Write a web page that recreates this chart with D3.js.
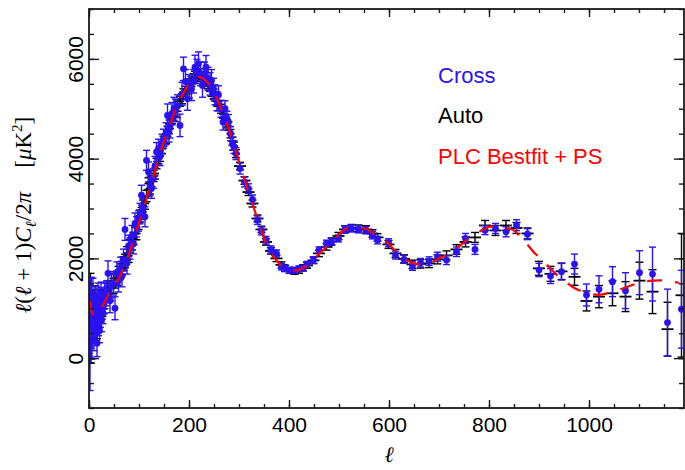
<!DOCTYPE html>
<html><head><meta charset="utf-8">
<script src="https://cdn.jsdelivr.net/npm/d3@7"></script>
<style>body{margin:0;background:#fff}svg{display:block}</style>
</head><body>
<svg id="chart" width="685" height="470"></svg>
<script>
// ---------- data ----------
const theoryEll = [2,5,10,15,20,30,40,50,60,70,80,90,100,110,120,130,140,150,160,170,180,190,200,210,220,230,240,250,260,270,280,290,300,310,320,330,340,350,360,370,380,390,400,410,420,430,440,450,460,470,480,490,500,510,520,530,540,550,560,570,580,590,600,610,620,630,640,650,660,670,680,690,700,710,720,730,740,750,760,770,780,790,800,810,820,830,840,850,860,870,880,890,900,910,920,930,940,950,960,970,980,990,1000,1020,1040,1060,1080,1100,1120,1140,1160,1180];
const theoryDl = [1150,950,850,880,930,1100,1300,1490,1600,1840,2080,2400,2720,3030,3380,3680,4040,4340,4610,4910,5150,5330,5500,5610,5640,5590,5490,5350,5110,4860,4580,4280,3940,3620,3300,3000,2700,2400,2150,2020,1900,1800,1760,1760,1770,1820,1890,1980,2090,2180,2280,2370,2480,2570,2610,2620,2620,2600,2570,2490,2410,2350,2290,2170,2080,2000,1940,1900,1880,1880,1890,1940,2000,2040,2100,2160,2240,2320,2400,2470,2530,2590,2630,2640,2640,2620,2600,2560,2460,2350,2240,2120,2030,1930,1830,1720,1630,1550,1480,1410,1360,1320,1290,1270,1310,1370,1440,1510,1550,1560,1540,1510];

const binCenters = [2,3,4,5,6,7,8,9,10,11,12,13,14,15,16,17,18,19,20,21,22,23,24,25,26,27,28,29,
  31,35,38,42,45,49,52,56,59,63,66,69,72,76,79,82,86,89,92,95,99,102,105,108,112,115,119,122,125,129,132,135,139,142,146,149,
  154,157,160,162,166,170,173,177,182,186,189,193,197,201,205,209,212,216,219,223,227,231,234,238,242,245,249,252,256,259,264,268,272,276,279,283,287,290,294,
  302,311,319,327,337,345,354,364,375,385,392,401,411,420,428,436,449,460,475,485,499,512,525,539,554,567,577,
  599,613,630,647,663,680,697,715,735,753,772,792,813,834,855,877,900,923,945,971,995,1020,1047,1073,1101,1127,1157,1185];

const crossDl = [250,900,600,1100,450,850,1200,700,500,950,1050,650,1150,800,300,900,1250,700,1000,550,1100,850,1300,750,1000,1200,900,1100,
  1250,1300,1700,1150,1450,1500,1000,1700,1550,1800,1650,1966,2580,1900,2250,2200,2450,2300,2700,2633,2750,2900,3266,3000,2833,3966,3733,3450,3400,3600,3850,4133,4200,4050,4300,4400,
  4500,4866,4550,4633,4900,5000,4966,5050,4666,5300,5800,5550,5200,5450,5400,5550,5833,5750,5900,5700,5466,5700,5833,5600,5500,5566,5400,5280,5150,5280,5000,4733,5000,4800,4733,4500,4300,4233,4100,
  3800,3533,3400,3180,2766,2550,2366,2180,2100,1833,1800,1760,1760,1790,1800,1880,1966,2166,2300,2330,2400,2580,2600,2580,2566,2466,2366,
  2313,2066,1980,1846,1913,1946,2033,1966,2133,2400,2180,2566,2600,2533,2666,2486,1766,1646,1733,1886,1266,1380,1533,1353,1713,1686,713,980];
const crossErr = [900,700,600,520,470,430,400,370,350,330,320,300,290,280,270,260,255,250,245,240,235,230,225,220,220,215,210,210,
  260,250,250,240,240,235,230,230,225,225,220,220,220,215,215,215,210,210,210,205,205,205,200,200,200,200,200,195,195,195,195,190,190,190,190,190,
  220,230,220,220,225,230,225,230,225,230,235,235,230,235,235,235,240,240,240,240,235,235,235,230,225,220,210,200,190,180,170,160,160,150,150,140,130,130,120,
  110,100,95,90,85,80,75,70,70,65,65,60,60,60,60,60,65,65,65,70,70,70,70,70,75,75,75,
  80,80,80,85,85,85,90,90,95,100,100,90,100,100,110,110,133,150,166,200,220,270,300,360,440,540,670,780];

const autoDl = [600,1100,400,900,700,1000,800,950,650,800,1200,900,700,1000,600,1100,900,1000,800,900,1200,1000,1100,950,1250,1000,1150,1050,
  1150,1350,1400,1300,1550,1450,1550,1600,1700,1750,1800,1900,1950,2100,2050,2250,2300,2400,2500,2500,2700,2850,2900,3050,3100,3250,3500,3400,3550,3650,3700,3900,4000,4050,4200,4350,
  4400,4550,4600,4700,4800,4850,4950,5050,5150,5200,5300,5350,5400,5500,5550,5600,5650,5700,5650,5700,5600,5650,5550,5500,5450,5350,5300,5250,5150,5050,5000,4900,4800,4700,4650,4500,4350,4250,4100,
  3850,3560,3330,3100,2800,2580,2330,2150,2000,1870,1800,1760,1740,1760,1810,1860,1960,2100,2230,2340,2450,2580,2610,2600,2580,2500,2420,
  2280,2100,1990,1880,1890,1900,1980,2060,2180,2330,2420,2660,2560,2660,2610,2500,1800,1690,1740,1630,1146,1233,1300,1233,1553,1333,580,1260];
const autoErr = [700,600,500,450,400,360,330,300,280,260,250,240,230,220,210,200,200,190,190,180,180,175,170,170,165,165,160,160,
  160,155,155,150,150,150,145,145,140,140,140,135,135,135,130,130,130,125,125,125,120,120,120,120,115,115,115,110,110,110,110,105,105,105,105,100,
  100,100,100,100,100,100,100,100,100,100,100,100,100,100,100,100,100,100,100,100,100,100,100,100,100,100,95,95,95,90,90,90,90,85,85,85,80,80,80,
  75,75,70,70,70,65,65,65,65,60,60,60,60,60,60,60,65,65,65,70,70,70,70,70,75,75,75,
  80,80,80,85,85,85,90,90,95,100,100,100,100,100,110,110,140,150,165,170,200,223,250,300,370,440,540,1240];

const xTicksMajor = [0,200,400,600,800,1000];
const yTicksMajor = [0,2000,4000,6000];
const legendLabels = ["Cross","Auto","PLC Bestfit + PS"];

// ---------- layout ----------
const W = 685, H = 470;
const m = {left:89, top:9, right:1, bottom:62};
const pw = W - m.left - m.right, ph = H - m.top - m.bottom;
const BLUE = "#2a12f4", RED = "#ff0000", AX = "#1a1a1a";

const svg = d3.select("#chart");
const x = d3.scaleLinear().domain([0,1190]).range([0,pw]);
const y = d3.scaleLinear().domain([-1000,7000]).range([ph,0]);
const g = svg.append("g").attr("transform",`translate(${m.left},${m.top})`);

svg.append("defs").append("clipPath").attr("id","clip")
  .append("rect").attr("x",0).attr("y",0).attr("width",pw).attr("height",ph);
const plot = g.append("g").attr("clip-path","url(#clip)");

const autoData = binCenters.map((l,i)=>({l, d:autoDl[i], e:autoErr[i]}));
const crossData = binCenters.map((l,i)=>({l, d:crossDl[i], e:crossErr[i]}));

// Auto (black) markers
const ag = plot.append("g").attr("stroke","#000").attr("stroke-width",1.4);
autoData.forEach(p=>{
  const cx = x(p.l), cy = y(p.d), t = y(p.d+p.e), b = y(p.d-p.e);
  const hw = p.l < 300 ? 4 : 6;
  ag.append("line").attr("x1",cx).attr("x2",cx).attr("y1",t).attr("y2",b);
  ag.append("line").attr("x1",cx-4).attr("x2",cx+4).attr("y1",t).attr("y2",t);
  ag.append("line").attr("x1",cx-4).attr("x2",cx+4).attr("y1",b).attr("y2",b);
  ag.append("line").attr("x1",cx-hw).attr("x2",cx+hw).attr("y1",cy).attr("y2",cy).attr("stroke-width",1.8);
});

// Cross (blue) markers
const cg = plot.append("g");
crossData.forEach(p=>{
  const cx = x(p.l), cy = y(p.d), t = y(p.d+p.e), b = y(p.d-p.e);
  cg.append("line").attr("x1",cx).attr("x2",cx).attr("y1",t).attr("y2",b).attr("stroke",BLUE).attr("stroke-width",1.4);
  cg.append("line").attr("x1",cx-3.5).attr("x2",cx+3.5).attr("y1",t).attr("y2",t).attr("stroke",BLUE).attr("stroke-width",1.4);
  cg.append("line").attr("x1",cx-3.5).attr("x2",cx+3.5).attr("y1",b).attr("y2",b).attr("stroke",BLUE).attr("stroke-width",1.4);
  cg.append("circle").attr("cx",cx).attr("cy",cy).attr("r",3.4).attr("fill",BLUE);
});

// Theory curve
const line = d3.line().x((d,i)=>x(theoryEll[i])).y(d=>y(d)).curve(d3.curveMonotoneX);
plot.append("path").datum(theoryDl).attr("d",line)
  .attr("fill","none").attr("stroke",RED).attr("stroke-width",2.2)
  .attr("stroke-dasharray","15,13");

// ---------- axes ----------
const fontSans = "'Liberation Sans', Arial, Helvetica, sans-serif";
function styleAxis(sel){
  sel.select(".domain").remove();
  sel.selectAll(".tick line").attr("stroke",AX).attr("stroke-width",1.4);
  sel.selectAll("text").attr("fill","#000").style("font-family",fontSans).style("font-size","21px");
}
const xMinor = d3.range(0,1191,50), yMinor = d3.range(-1000,7001,500);
g.append("g").attr("transform",`translate(0,${ph})`)
  .call(d3.axisBottom(x).tickValues(xMinor).tickSize(-4).tickFormat("")).call(styleAxis);
g.append("g").attr("transform",`translate(0,${ph})`)
  .call(d3.axisBottom(x).tickValues(xTicksMajor).tickSize(-8).tickPadding(9).tickFormat(d3.format("d"))).call(styleAxis);
g.append("g").call(d3.axisTop(x).tickValues(xMinor).tickSize(-4).tickFormat("")).call(styleAxis);
g.append("g").call(d3.axisTop(x).tickValues(xTicksMajor).tickSize(-8).tickFormat("")).call(styleAxis);

g.append("g").call(d3.axisLeft(y).tickValues(yMinor).tickSize(-5).tickFormat("")).call(styleAxis);
const yl = g.append("g").call(d3.axisLeft(y).tickValues(yTicksMajor).tickSize(-10).tickFormat(d3.format("d"))).call(styleAxis);
yl.selectAll("text").attr("x",null).attr("dy",null).attr("text-anchor","middle")
  .attr("transform","rotate(-90)").attr("x",0).attr("y",-6);
g.append("g").attr("transform",`translate(${pw},0)`)
  .call(d3.axisRight(y).tickValues(yMinor).tickSize(-5).tickFormat("")).call(styleAxis);
g.append("g").attr("transform",`translate(${pw},0)`)
  .call(d3.axisRight(y).tickValues(yTicksMajor).tickSize(-10).tickFormat("")).call(styleAxis);

// frame
g.append("rect").attr("x",0).attr("y",0).attr("width",pw).attr("height",ph)
  .attr("fill","none").attr("stroke",AX).attr("stroke-width",1.8);

// axis titles
const serif = "'Liberation Serif','Times New Roman',serif";
svg.append("text").attr("x",m.left + x(600)).attr("y",462).attr("text-anchor","middle")
  .style("font-family",serif).style("font-style","italic").style("font-size","22px").text("ℓ");

const yt = svg.append("text").attr("transform","translate(31,215) rotate(-90)")
  .attr("text-anchor","middle").style("font-family",serif).style("font-size","23px");
yt.append("tspan").style("font-style","italic").text("ℓ");
yt.append("tspan").text("(");
yt.append("tspan").style("font-style","italic").text("ℓ");
yt.append("tspan").text(" + 1)");
yt.append("tspan").style("font-style","italic").text("C");
yt.append("tspan").style("font-style","italic").style("font-size","15px").attr("dy",5).text("ℓ");
yt.append("tspan").attr("dy",-5).text("/2");
yt.append("tspan").style("font-style","italic").text("π");
yt.append("tspan").attr("dx",24).text("[");
yt.append("tspan").style("font-style","italic").text("μ");
yt.append("tspan").text("K");
yt.append("tspan").style("font-size","15px").attr("dy",-9).text("2");
yt.append("tspan").attr("dy",9).text("]");

// legend
const legColors = [BLUE,"#000",RED];
legendLabels.forEach((t,i)=>{
  svg.append("text").attr("x",438).attr("y",83 + i*40.3)
    .attr("fill",legColors[i]).style("font-family",fontSans).style("font-size","22px").text(t);
});
</script>
</body></html>
